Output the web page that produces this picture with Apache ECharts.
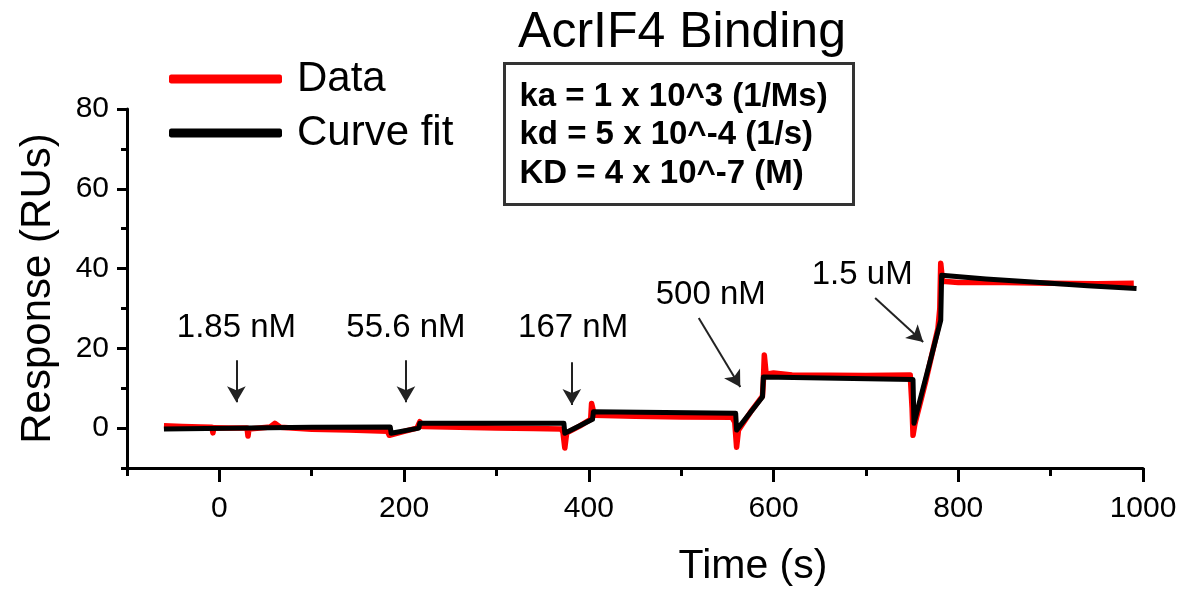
<!DOCTYPE html>
<html>
<head>
<meta charset="utf-8">
<title>AcrIF4 Binding</title>
<script src="https://cdn.jsdelivr.net/npm/echarts@6/dist/echarts.min.js"></script>
<style>
  html, body { margin: 0; padding: 0; background: #fff; }
  #main { width: 1189px; height: 594px; }
</style>
</head>
<body>
<div id="main"></div>
<script>
// sensorgram (time in s, response in RU)
var dataTime = [-60, -40, -20, -8, -7, -6, 10, 30, 31, 32, 55, 60, 66, 100, 140, 182, 184, 186, 200, 214, 216, 217, 220, 260, 300, 340, 370, 372, 374, 376, 390, 402, 403, 406, 450, 500, 555, 558, 560, 562, 575, 588, 589, 590, 592, 600, 620, 700, 748, 750, 751, 753, 765, 778, 780, 781, 783, 800, 850, 900, 950, 990];
var dataResp = [0.6, 0.4, 0.3, 0.2, -1.2, 0.1, 0.0, 0.0, -2.0, -0.2, 0.3, 1.2, 0.2, -0.3, -0.5, -0.8, -1.8, -1.4, -0.8, 0.0, 0.5, 1.6, 0.4, 0.2, 0.0, -0.1, -0.2, -1.0, -5.0, -1.2, 0.5, 2.2, 6.2, 3.2, 3.0, 2.8, 2.7, 1.5, -4.8, -0.5, 4.0, 8.0, 12.0, 18.3, 13.5, 13.8, 13.3, 13.2, 13.3, 5.0, -1.8, 1.0, 12.0, 25.0, 30.0, 41.3, 36.8, 36.5, 36.5, 36.3, 36.2, 36.3];

var fitTime = [-60, 100, 185, 186, 216, 217, 373, 374, 404, 405, 559, 560, 588, 589, 751, 752, 781, 782, 830, 880, 940, 993];
var fitResp = [-0.2, 0.2, 0.3, -1.3, 0.0, 1.2, 1.2, -1.3, 2.2, 4.1, 3.7, -0.5, 7.8, 12.8, 12.2, 1.2, 27.0, 38.3, 37.4, 36.6, 35.7, 35.0];

// injection labels and arrows (data coordinates)
var concLabels = ['1.85 nM', '55.6 nM', '167 nM', '500 nM', '1.5 uM'];
var labelPos = [[18.5, 25], [202, 25], [383, 25], [532, 33.3], [696, 38.3]];
var arrowFrom = [[18.4, 17], [202, 17], [381.6, 16.5], [519, 27.6], [710, 32.6]];
var arrowTo = [[18.4, 6.5], [202, 6.5], [381.6, 5.8], [564, 10.3], [762, 21.6]];

var xMajor = [0, 200, 400, 600, 800, 1000];
var xMinor = [-100, 100, 300, 500, 700, 900];
var yMajor = [0, 20, 40, 60, 80];
var yMinor = [-10, 10, 30, 50, 70];

var fitParams = ['ka = 1 x 10^3 (1/Ms)', 'kd = 5 x 10^-4 (1/s)', 'KD = 4 x 10^-7 (M)'];

function pairs(xs, ys) {
  var out = [];
  for (var i = 0; i < xs.length; i++) out.push([xs[i], ys[i]]);
  return out;
}

var font = 'Liberation Sans, Arial, sans-serif';
var chart = echarts.init(document.getElementById('main'));

var arrowLines = [];
var labelPoints = [];
for (var i = 0; i < concLabels.length; i++) {
  arrowLines.push([{ coord: arrowFrom[i] }, { coord: arrowTo[i] }]);
  labelPoints.push({ coord: labelPos[i], name: concLabels[i] });
}

var option = {
  animation: false,
  backgroundColor: '#fff',
  textStyle: { fontFamily: font },
  title: {
    text: 'AcrIF4 Binding',
    left: 677,
    top: 3,
    textAlign: 'center',
    textStyle: { fontSize: 50, fontWeight: 'normal', color: '#000', fontFamily: font }
  },
  legend: {
    left: 164,
    top: 53,
    orient: 'vertical',
    itemWidth: 113,
    itemHeight: 9,
    itemGap: 12,
    icon: 'roundRect',
    textStyle: { fontSize: 42, color: '#000', padding: [0, 0, 0, 10] },
    data: ['Data', 'Curve fit']
  },
  grid: { left: 127, top: 109, width: 1016, height: 359 },
  xAxis: [{
    type: 'value',
    min: -100,
    max: 1000,
    name: 'Time (s)',
    nameLocation: 'middle',
    nameGap: 78,
    nameTextStyle: { fontSize: 41, color: '#000', padding: [0, 0, 0, 236] },
    axisLine: { onZero: false, lineStyle: { color: '#000', width: 3 } },
    axisTick: { customValues: xMajor, length: 14, lineStyle: { width: 3, color: '#000' } },
    axisLabel: {
      customValues: xMajor, fontSize: 30, color: '#000', margin: 26,
      formatter: function (v) { return String(v); }
    },
    splitLine: { show: false }
  }, {
    type: 'value',
    min: -100,
    max: 1000,
    position: 'bottom',
    axisLine: { show: false, onZero: false },
    axisTick: { customValues: xMinor, length: 8, lineStyle: { width: 3, color: '#000' } },
    axisLabel: { show: false },
    splitLine: { show: false }
  }],
  yAxis: [{
    type: 'value',
    min: -10,
    max: 80,
    name: 'Response (RUs)',
    nameLocation: 'middle',
    nameGap: 68,
    nameTextStyle: { fontSize: 42, color: '#000' },
    axisLine: { onZero: false, lineStyle: { color: '#000', width: 3 } },
    axisTick: { customValues: yMajor, length: 10, lineStyle: { width: 3, color: '#000' } },
    axisLabel: { customValues: yMajor, fontSize: 30, color: '#000', margin: 18 },
    splitLine: { show: false }
  }, {
    type: 'value',
    min: -10,
    max: 80,
    position: 'left',
    axisLine: { show: false, onZero: false },
    axisTick: { customValues: yMinor, length: 6, lineStyle: { width: 3, color: '#000' } },
    axisLabel: { show: false },
    splitLine: { show: false }
  }],
  series: [{
    name: 'Data',
    type: 'line',
    data: pairs(dataTime, dataResp),
    showSymbol: false,
    symbol: 'none',
    color: '#ff0000',
    lineStyle: { color: '#ff0000', width: 5.5, join: 'round' },
    z: 2
  }, {
    name: 'Curve fit',
    type: 'line',
    data: pairs(fitTime, fitResp),
    showSymbol: false,
    symbol: 'none',
    color: '#000',
    lineStyle: { color: '#000', width: 5, join: 'round' },
    z: 3,
    markLine: {
      silent: true,
      symbol: ['none', 'arrow'],
      symbolSize: [14, 16],
      lineStyle: { color: '#222', width: 2, type: 'solid' },
      label: { show: false },
      data: arrowLines
    },
    markPoint: {
      silent: true,
      symbol: 'circle',
      symbolSize: 0,
      label: {
        show: true,
        position: 'inside',
        formatter: '{b}',
        fontSize: 33,
        color: '#000',
        fontFamily: font
      },
      data: labelPoints
    }
  }],
  graphic: [{
    type: 'group',
    left: 503,
    top: 62,
    children: [{
      type: 'rect',
      shape: { x: 0, y: 0, width: 349, height: 141 },
      style: { fill: '#fff', stroke: '#333', lineWidth: 3 }
    }].concat(fitParams.map(function (t, k) {
      return {
        type: 'text',
        x: 15,
        y: 33 + k * 38.5,
        style: { text: t, font: 'bold 33px ' + font, fill: '#000', verticalAlign: 'middle' }
      };
    }))
  }]
};

chart.setOption(option);
</script>
</body>
</html>
